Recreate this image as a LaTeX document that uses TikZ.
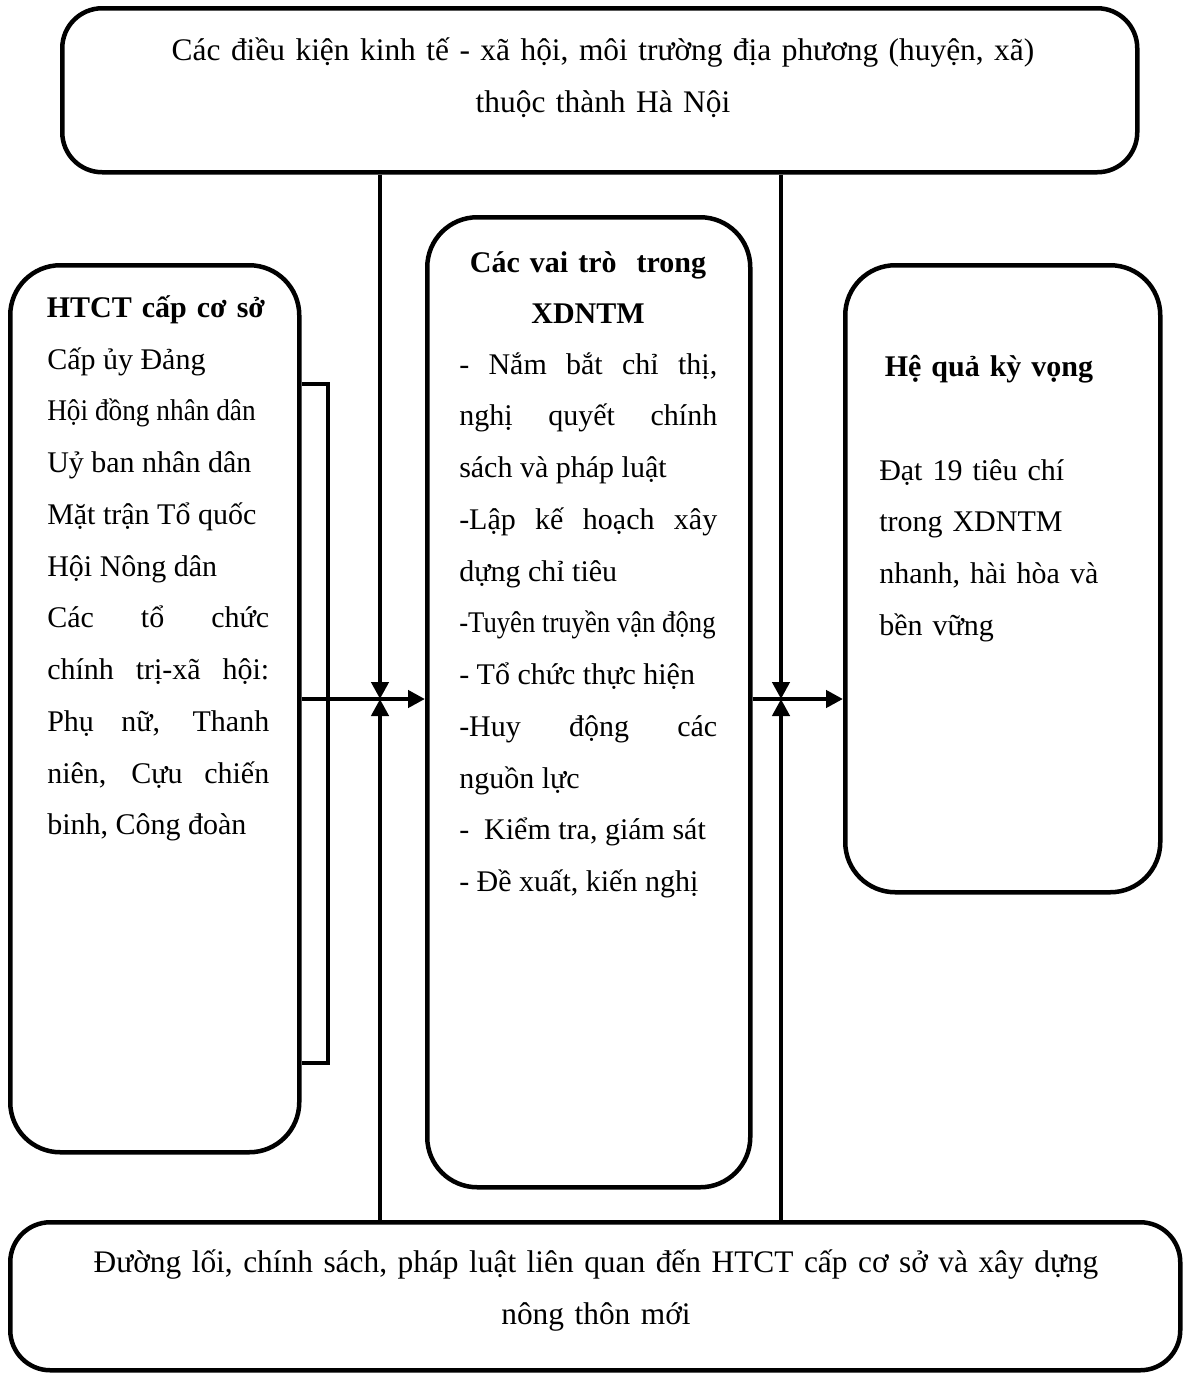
\documentclass[tikz,border=0pt]{standalone}
\usepackage{fontspec}
\setmainfont{Liberation Serif}
\usetikzlibrary{arrows.meta}
\newcommand{\squeezed}[2]{\scalebox{#1}[1]{#2}}
\begin{document}
\begin{tikzpicture}[x=1pt, y=-1pt, line width=4.5pt,
      every node/.style = {inner sep=0pt, font=\fontsize{30}{51.75}\selectfont},
      box/.style = {draw, rounded corners=#1, anchor=north west},
      box/.default = 50pt,
      para/.style = {anchor=base west, text width=#1, align=justify},
      ctr/.style = {anchor=base, text width=#1, align=center},
      big/.style = {ctr=#1, font=\fontsize{31.4}{52}\selectfont},
      head/.style = {ctr=#1, font=\fontsize{30}{51.75}\selectfont\bfseries},
      arr/.style = {-{Triangle[length=17pt, width=17pt]}}]
  \useasboundingbox (0,0) rectangle (1190,1376);
  % boxes
  \node[box=40pt, minimum width=1075pt, minimum height=164pt] (top) at (60,6) {};
  \node[box, minimum width=289pt, minimum height=887pt] (htct) at (8,263) {};
  \node[box, minimum width=323pt, minimum height=970pt] (roles) at (425,215) {};
  \node[box, minimum width=315pt, minimum height=627pt] (result) at (843,263) {};
  \node[box=40pt, minimum width=1170pt, minimum height=148pt] (bot) at (8,1220) {};
  % texts
  \node[big=1100pt] (toptxt) at (603,60) {Các điều kiện kinh tế - xã hội, môi trường địa phương (huyện, xã)\\
    thuộc thành Hà Nội};
  \node[head=280pt] (htcthead) at (156,317) {HTCT cấp cơ sở};
  \node[para=222pt] (htcttxt) at (45,369) {Cấp ủy Đảng\par
    \squeezed{0.91}{Hội đồng nhân dân}\par
    Uỷ ban nhân dân\par
    Mặt trận Tổ quốc\par
    Hội Nông dân\par
    Các tổ chức\linebreak chính trị-xã hội:\linebreak Phụ nữ, Thanh\linebreak niên, Cựu chiến\linebreak binh, Công đoàn};
  \node[head=300pt] (rolehead) at (588,272) {Các vai trò\ \ trong\\ XDNTM};
  \node[para=258pt] (roletxt) at (457,374) {- Nắm bắt chỉ thị,\linebreak nghị quyết chính\linebreak sách và pháp luật\par
    -Lập kế hoạch xây\linebreak dựng chỉ tiêu\par
    \squeezed{0.89}{-Tuyên truyền vận động}\par
    - Tổ chức thực hiện\par
    -Huy động các\linebreak nguồn lực\par
    -\ \ Kiểm tra, giám sát\par
    - Đề xuất, kiến nghị};
  \node[head=300pt] (reshead) at (989,376) {Hệ quả kỳ vọng};
  \node[anchor=base west, text width=260pt, align=left] (restxt) at (877,480) {Đạt 19 tiêu chí\\
    trong XDNTM\\ nhanh, hài hòa và\\ bền vững};
  \node[big=1150pt] (bottxt) at (596,1272) {Đường lối, chính sách, pháp luật liên quan đến HTCT cấp cơ sở và xây dựng\\
    nông thôn mới};
  % connectors
  \coordinate (jl) at (380,699);
  \coordinate (jr) at (781,699);
  \coordinate (br1) at (328,384);
  \coordinate (br2) at (328,1063);
  \draw (htct.east |- br1) -- (br1) -- (br2) -- (htct.east |- br2);
  \draw[arr] (top.south -| jl) -- (jl);
  \draw[arr] (bot.north -| jl) -- (jl);
  \draw[arr] (htct.east |- jl) -- (roles.west |- jl);
  \draw[arr] (top.south -| jr) -- (jr);
  \draw[arr] (bot.north -| jr) -- (jr);
  \draw[arr] (roles.east |- jr) -- (result.west |- jr);
\end{tikzpicture}
\end{document}
